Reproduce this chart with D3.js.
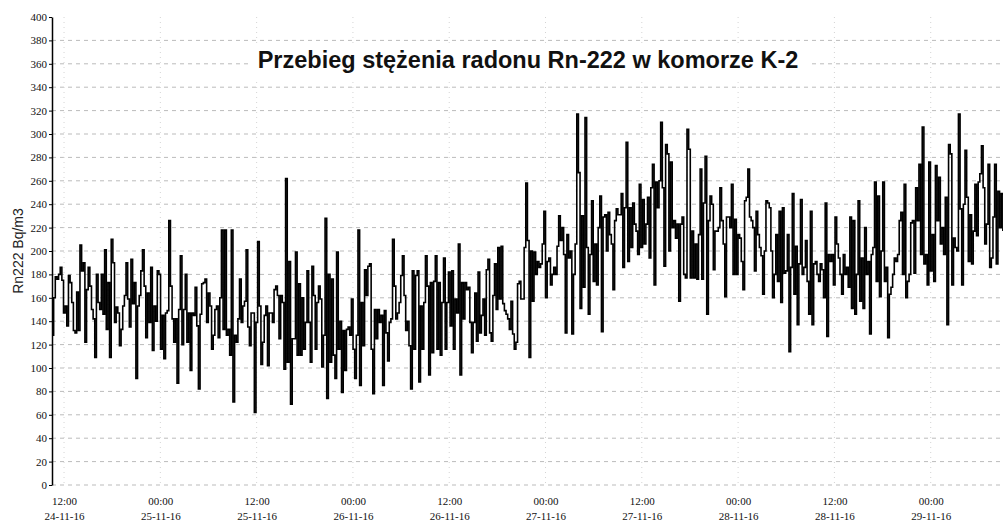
<!DOCTYPE html>
<html>
<head>
<meta charset="utf-8">
<script src="https://cdnjs.cloudflare.com/ajax/libs/d3/7.8.5/d3.min.js"></script>
<style>
   body { margin: 0; background: #fff; }
   .axis text { font-family: "Liberation Serif", "Times New Roman", serif; font-size: 11px; fill: #111; }
   .axis .domain { stroke: #000; stroke-width: 1.5; }
   .axis line { stroke: #000; }
   .grid line { stroke: #bbb; stroke-dasharray: 4,4; }
   .vgrid line { stroke: #d4d4d4; stroke-dasharray: 1,4; }
   .line { fill: none; stroke: #000; stroke-width: 1.6; }
   .title { font-family: "Liberation Sans", Arial, sans-serif; font-size: 23.5px; font-weight: bold; fill: #111; }
   .ylabel { font-family: "Liberation Sans", Arial, sans-serif; font-size: 14px; fill: #222; }
</style>
</head>
<body>
<script>
// Rn-222 readings (Bq/m3), chamber K-2 in time order
// 24-11 10:30 -> 25-11 ~16:00
var rnPart1 = [128,160,178,176,180,186,175,147,153,136,
   179,173,156,132,130,165,132,205,183,190,
   122,167,186,170,150,142,109,180,156,150,
   180,146,201,133,173,109,210,190,139,152,
   147,119,133,153,162,190,159,135,193,155,
   173,91,153,162,183,201,170,126,164,139,
   186,115,153,140,183,180,116,145,108,147,
   149,226,170,142,122,142,87,150,196,120,
   150,180,122,147,98,147,145,169,136,82,
   146,172,173,176,139,164,153,116,128,150,
   153,126,160,218,133,218,128,133,111,218,
   71,128,122,142,176,139,153,157,201,135,
   119,147,147,62,139,208,153,103,122,145,
   153,102,147,147,139,167,170,162,125,162,
   156,99,262,105,191];
// 25-11 ~16:00 -> 26-11 ~22:00
var rnPart2 = [69,125,125,199,111,172,111,160,116,139,
   183,139,105,187,162,116,156,170,159,101,
   128,228,74,180,105,176,111,91,199,116,
   140,79,132,98,133,135,128,159,116,91,
   128,218,85,156,119,184,162,187,189,116,
   78,150,125,150,139,145,85,149,130,106,
   139,142,210,170,142,147,156,179,196,162,
   132,140,119,82,183,116,179,183,88,153,
   116,156,196,170,94,173,113,174,196,116,
   173,111,156,194,116,156,182,136,183,116,
   159,147,206,94,173,142,173,167,169,139,
   113,139,164,123,182,130,145,159,128,184,
   193,130,123,162,189,150,203,159,204,155,
   149,146,142,133,157,129,116,122,172,174,
   159,159,203,258];
// 26-11 ~22:00 -> 28-11 ~04:00
var rnPart3 = [209,109,200,157,199,180,191,186,189,206,
   234,160,191,194,171,180,186,180,204,230,
   209,220,197,130,214,194,200,129,180,206,
   317,267,151,230,169,314,203,146,197,243,
   174,206,171,220,247,131,229,231,200,233,
   214,206,167,226,236,231,231,249,186,237,
   293,191,237,203,241,223,217,197,257,203,
   244,206,223,246,194,254,274,171,259,237,
   260,310,254,187,291,283,200,276,220,226,
   211,223,157,223,229,180,177,304,287,177,
   217,177,206,176,214,270,176,241,281,146,
   226,247,240,184,217,217,220,254,226,206,
   161,229,229,220,257,180,227,180,214,211,
   191,167,243,246,270,229,226,220,183,234,
   214,203,196,163,200,243];
// 28-11 ~04:00 -> 29-11 ~09:00
var rnPart4 = [241,237,200,160,180,214,174,234,156,237,
   181,183,214,114,186,249,163,204,137,189,
   244,180,186,209,174,146,234,137,189,191,
   180,174,189,184,160,241,127,197,191,197,
   171,229,206,194,180,163,197,180,186,169,
   229,151,226,146,180,243,157,194,151,220,
   180,191,129,197,203,259,174,247,161,200,
   259,174,186,126,163,169,180,194,191,197,
   226,233,180,257,160,174,180,224,226,181,
   254,226,274,197,306,189,197,171,276,183,
   214,174,273,226,263,206,220,197,246,137,
   291,283,171,211,203,200,317,236,171,240,
   286,246,191,231,189,217,257,213,259,266,
   290,254,206,223,274,186,194,229,274,189,
   251,220,249,217];

var yTickValues = [0,20,40,60,80,100,120,140,160,180,200,220,240,260,280,300,320,340,360,380,400];
var xTickTimes = ["2016-11-24 12:00","2016-11-25 00:00","2016-11-25 12:00","2016-11-26 00:00",
   "2016-11-26 12:00","2016-11-27 00:00","2016-11-27 12:00","2016-11-28 00:00",
   "2016-11-28 12:00","2016-11-29 00:00"];

var titleText = "Przebieg stężenia radonu Rn-222 w komorze K-2";
var yLabelText = "Rn222 Bq/m3";

var firstSample = "2016-11-24 10:30",
   lastShown = "2016-11-29 12:00",
   stepMinutes = 12.3; // sampling interval as it comes out of the plot

var W = 1003, H = 526;
var plot = { left: 52, top: 17, bottom: 485, right: 1027 };

var parseTime = d3.timeParse("%Y-%m-%d %H:%M"),
   fmtHour = d3.timeFormat("%H:%M"),
   fmtDay = d3.timeFormat("%d-%m-%y");

var t0 = parseTime(firstSample);
var values = rnPart1.concat(rnPart2, rnPart3, rnPart4);
var data = values.map(function(v, i) {
   return { date: new Date(t0.getTime() + i * stepMinutes * 60000), rate: v };
});

var x = d3.scaleTime()
   .domain([t0, parseTime(lastShown)])
   .range([plot.left, plot.right]);
var y = d3.scaleLinear().domain([0, 400]).range([plot.bottom, plot.top]);

var svg = d3.select("body").append("svg")
   .attr("width", W)
   .attr("height", H)
   .style("display", "block");

svg.append("rect").attr("width", W).attr("height", H).attr("fill", "#fff");

svg.append("defs").append("clipPath").attr("id", "clip")
   .append("rect")
   .attr("x", plot.left)
   .attr("y", plot.top - 2)
   .attr("width", W - plot.left)
   .attr("height", plot.bottom - plot.top + 2);

var xTicks = xTickTimes.map(parseTime);

// horizontal grid
svg.append("g").attr("class", "grid")
   .selectAll("line")
   .data(yTickValues.slice(0, -1))
   .enter().append("line")
   .attr("x1", plot.left)
   .attr("x2", W)
   .attr("y1", function(d) { return y(d); })
   .attr("y2", function(d) { return y(d); });

// faint vertical grid at the 12h ticks
svg.append("g").attr("class", "vgrid")
   .selectAll("line")
   .data(xTicks)
   .enter().append("line")
   .attr("x1", function(d) { return x(d); })
   .attr("x2", function(d) { return x(d); })
   .attr("y1", plot.top)
   .attr("y2", plot.bottom);

// title sits on a white box so the grid does not cross it
svg.append("rect")
   .attr("x", 248).attr("y", 44)
   .attr("width", 562).attr("height", 34)
   .attr("fill", "#fff");
svg.append("text")
   .attr("class", "title")
   .attr("x", 528)
   .attr("y", 68)
   .attr("text-anchor", "middle")
   .text(titleText);

var line = d3.line()
   .x(function(d) { return x(d.date); })
   .y(function(d) { return y(d.rate); })
   .curve(d3.curveStepAfter);

svg.append("path")
   .datum(data)
   .attr("class", "line")
   .attr("clip-path", "url(#clip)")
   .attr("d", line);

// y axis
svg.append("g")
   .attr("class", "axis y")
   .attr("transform", "translate(" + plot.left + ",0)")
   .call(d3.axisLeft(y).tickValues(yTickValues).tickSize(3).tickSizeOuter(0).tickPadding(2));

svg.append("text")
   .attr("class", "ylabel")
   .attr("transform", "rotate(-90)")
   .attr("x", -251)
   .attr("y", 23)
   .attr("text-anchor", "middle")
   .text(yLabelText);

// x axis: two line labels, time over date
var xg = svg.append("g")
   .attr("class", "axis x")
   .attr("transform", "translate(0," + plot.bottom + ")")
   .call(d3.axisBottom(x).tickValues(xTicks).tickSize(0).tickFormat(""));
xg.select(".domain").remove();
xg.selectAll(".tick text").remove();
xg.selectAll(".tick").append("text")
   .attr("text-anchor", "middle")
   .attr("y", 20)
   .text(function(d) { return fmtHour(d); });
xg.selectAll(".tick").append("text")
   .attr("text-anchor", "middle")
   .attr("y", 35)
   .text(function(d) { return fmtDay(d); });
</script>
</body>
</html>
